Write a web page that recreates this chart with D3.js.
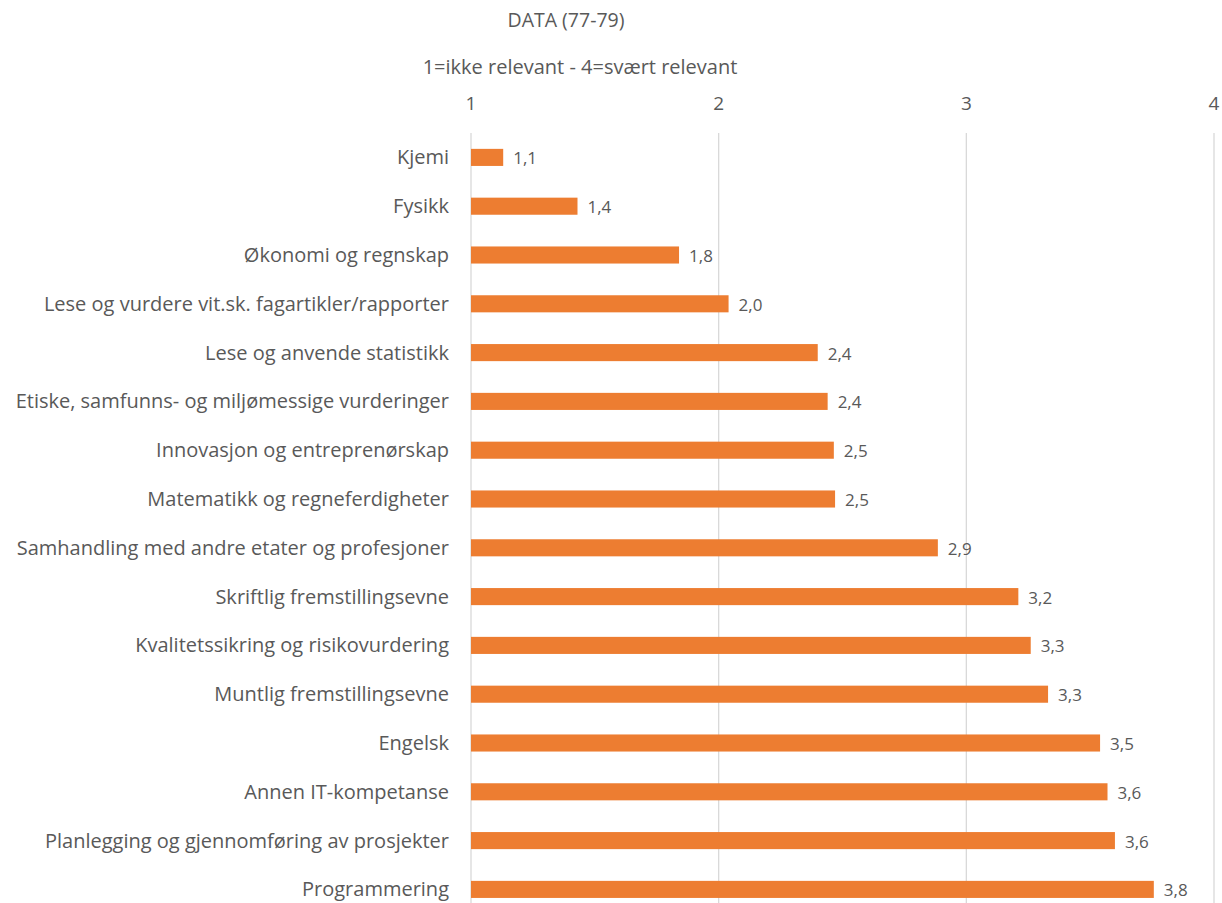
<!DOCTYPE html>
<html>
<head>
<meta charset="utf-8">
<script src="https://cdn.jsdelivr.net/npm/d3@7"></script>
<style>
  body { margin: 0; background: #fff; }
  text { font-family: "Open Sans", "Noto Sans", sans-serif; fill: #595959; }
</style>
</head>
<body>
<div id="chart"></div>
<script>
const categories = [
  "Kjemi",
  "Fysikk",
  "Økonomi og regnskap",
  "Lese og vurdere vit.sk. fagartikler/rapporter",
  "Lese og anvende statistikk",
  "Etiske, samfunns- og miljømessige vurderinger",
  "Innovasjon og entreprenørskap",
  "Matematikk og regneferdigheter",
  "Samhandling med andre etater og profesjoner",
  "Skriftlig fremstillingsevne",
  "Kvalitetssikring og risikovurdering",
  "Muntlig fremstillingsevne",
  "Engelsk",
  "Annen IT-kompetanse",
  "Planlegging og gjennomføring av prosjekter",
  "Programmering"
];
const values = [1.13, 1.43, 1.84, 2.04, 2.40, 2.44, 2.465, 2.47, 2.885, 3.21, 3.26, 3.33, 3.54, 3.57, 3.60, 3.757];
const xTicks = [1, 2, 3, 4];
const title = "DATA (77-79)";
const subtitle = "1=ikke relevant - 4=svært relevant";

const width = 1222, height = 903;
const margin = {top: 133, left: 471, right: 8};

const svg = d3.select("#chart").append("svg")
  .attr("width", width)
  .attr("height", height);

const xScale = d3.scaleLinear()
  .domain([1, 4])
  .range([margin.left, 1214]);

const yScale = d3.scaleBand()
  .domain(categories)
  .range([margin.top, margin.top + 48.8 * categories.length])
  .paddingInner(0.65)
  .paddingOuter(0.325);

// gridlines
svg.append("g")
  .selectAll("line")
  .data(xTicks)
  .join("line")
  .attr("x1", d => xScale(d))
  .attr("x2", d => xScale(d))
  .attr("y1", margin.top)
  .attr("y2", height)
  .attr("stroke", "#d9d9d9")
  .attr("stroke-width", 1.3);

// top axis labels
svg.append("g")
  .selectAll("text")
  .data(xTicks)
  .join("text")
  .attr("x", d => xScale(d))
  .attr("y", 110)
  .attr("text-anchor", "middle")
  .style("font-size", "19px")
  .text(d => d);

svg.append("text")
  .attr("x", 566)
  .attr("y", 27)
  .attr("text-anchor", "middle")
  .style("font-size", "19.5px")
  .text(title);

svg.append("text")
  .attr("x", 580)
  .attr("y", 74)
  .attr("text-anchor", "middle")
  .style("font-size", "20px")
  .text(subtitle);

// bars
svg.append("g")
  .selectAll("rect")
  .data(values)
  .join("rect")
  .attr("x", xScale(1))
  .attr("y", (d, i) => yScale(categories[i]))
  .attr("width", d => xScale(d) - xScale(1))
  .attr("height", yScale.bandwidth())
  .attr("fill", "#ed7d31");

// category labels
svg.append("g")
  .selectAll("text")
  .data(categories)
  .join("text")
  .attr("x", 449)
  .attr("y", d => yScale(d) + yScale.bandwidth() / 2)
  .attr("dy", "0.35em")
  .attr("text-anchor", "end")
  .style("font-size", "20px")
  .text(d => d);

// value labels
svg.append("g")
  .selectAll("text")
  .data(values)
  .join("text")
  .attr("x", d => xScale(d) + 10)
  .attr("y", (d, i) => yScale(categories[i]) + yScale.bandwidth() / 2 + 1)
  .attr("dy", "0.35em")
  .style("font-size", "17px")
  .text(d => d.toFixed(1).replace(".", ","));
</script>
</body>
</html>
